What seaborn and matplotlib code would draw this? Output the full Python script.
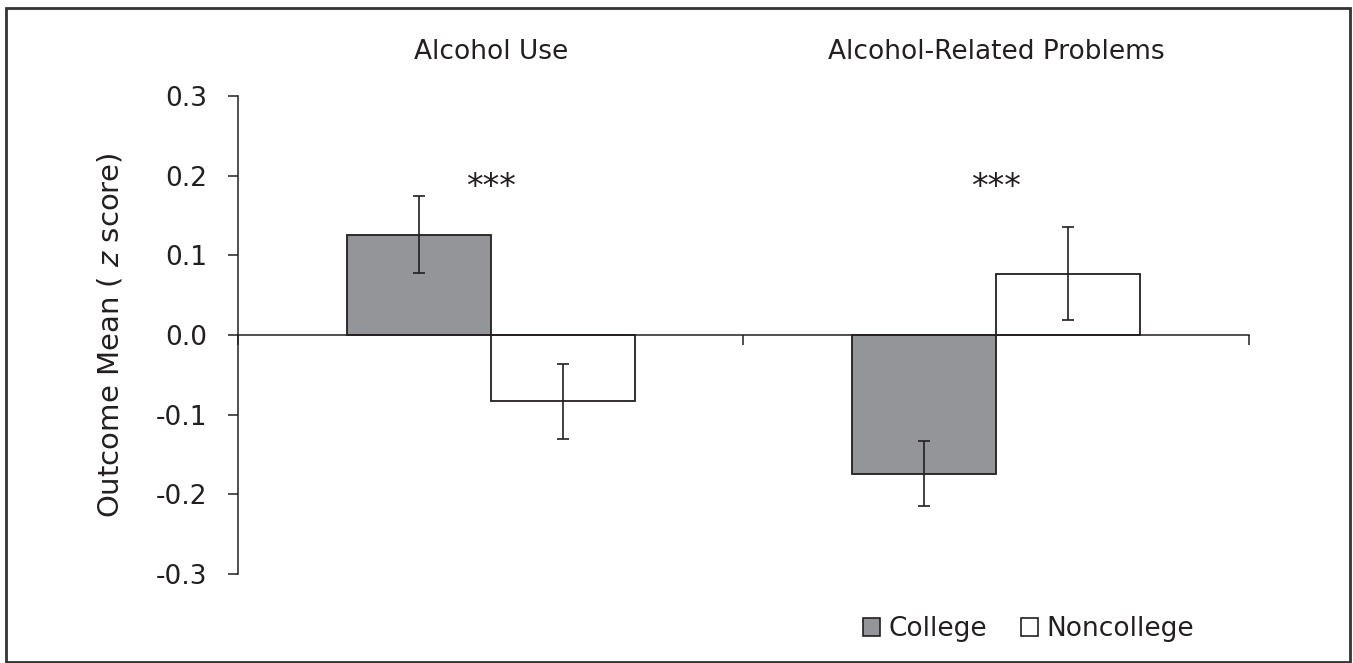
"""Bar chart of outcome means (z score) for college and noncollege groups."""

import matplotlib
matplotlib.use('Agg')
import matplotlib.pyplot as plt
import matplotlib.patches as mpatches
import seaborn as sns
import pandas as pd

# Data
outcomes = ['Alcohol Use', 'Alcohol-Related Problems']
groups = ['College', 'Noncollege']
college_means = [0.126, -0.174]
noncollege_means = [-0.083, 0.077]
college_errors = [0.048, 0.041]
noncollege_errors = [0.047, 0.058]
significance = ['***', '***']
y_ticks = [-0.3, -0.2, -0.1, 0.0, 0.1, 0.2, 0.3]

INK = '#231f20'
GRAY = '#949598'


def build_frame():
    """Long-format table for seaborn"""
    rows = []
    for i, outcome in enumerate(outcomes):
        rows.append({'outcome': outcome, 'group': 'College',
                     'mean': college_means[i], 'err': college_errors[i]})
        rows.append({'outcome': outcome, 'group': 'Noncollege',
                     'mean': noncollege_means[i], 'err': noncollege_errors[i]})
    return pd.DataFrame(rows)


def plot_means(df):
    sns.set_style('white')
    plt.rcParams['font.family'] = ['DejaVu Sans']
    plt.rcParams['axes.unicode_minus'] = False
    plt.rcParams['mathtext.fontset'] = 'dejavusans'

    fig = plt.figure(figsize=(13.53, 6.63), dpi=100)
    ax = fig.add_axes([0.1759, 0.1342, 0.7472, 0.721])

    sns.barplot(
        data=df, x='outcome', y='mean', hue='group',
        order=outcomes, hue_order=groups,
        palette={'College': GRAY, 'Noncollege': 'white'},
        saturation=1, width=0.57, errorbar=None,
        edgecolor=INK, linewidth=1.3, ax=ax,
    )

    # error bars at the bar centres
    err_lists = [college_errors, noncollege_errors]
    for container, errs in zip(ax.containers, err_lists):
        for bar, e in zip(container, errs):
            xc = bar.get_x() + bar.get_width() / 2
            ax.errorbar(xc, bar.get_height(), yerr=e, fmt='none',
                        ecolor=INK, elinewidth=1.2, capsize=4.5,
                        capthick=1.2, zorder=5)

    # axes styling
    ax.set_ylim(-0.3, 0.3)
    ax.set_xlim(-0.5, 1.5)
    ax.set_yticks(y_ticks)
    ax.set_yticklabels([f'{v:.1f}' for v in y_ticks])
    ax.set_xticks([-0.5, 0.5, 1.5])
    ax.set_xticklabels([])
    ax.set_xlabel('')
    ax.set_ylabel('Outcome Mean ( $\\mathit{z}$ score)', fontsize=21, color=INK)
    ax.yaxis.set_label_coords(-0.112, 0.5)

    for side in ['top', 'right']:
        ax.spines[side].set_visible(False)
    ax.spines['bottom'].set_position(('data', 0))
    for side in ['left', 'bottom']:
        ax.spines[side].set_color(INK)
        ax.spines[side].set_linewidth(1.1)
    ax.tick_params(axis='y', direction='out', length=7, width=1.1,
                   color=INK, labelsize=19, labelcolor=INK, pad=15, left=True)
    ax.tick_params(axis='x', direction='out', length=7, width=1.1,
                   color=INK, bottom=True)

    # outcome titles and significance marks
    for i, (name, sig) in enumerate(zip(outcomes, significance)):
        ax.text(i, 1.092, name, transform=ax.get_xaxis_transform(),
                ha='center', va='center', fontsize=19, color=INK)
        ax.text(i, 0.185, sig, ha='center', va='center',
                fontsize=24, color=INK)

    # legend
    handles = [mpatches.Patch(facecolor=GRAY, edgecolor=INK, linewidth=1.2),
               mpatches.Patch(facecolor='white', edgecolor=INK, linewidth=1.2)]
    ax.legend(handles, groups, loc='center left', ncol=2, frameon=False,
              bbox_to_anchor=(0.638, 0.051), bbox_transform=fig.transFigure,
              fontsize=19, handlelength=0.65, handleheight=0.65,
              handletextpad=0.3, columnspacing=1.3, borderpad=0,
              borderaxespad=0, labelcolor=INK)

    # frame around the whole figure
    fig.patches.append(mpatches.Rectangle(
        (0.0044, 0.0015), 0.9934, 0.9865, transform=fig.transFigure,
        fill=False, edgecolor='#333333', linewidth=2))

    fig.savefig('out.png', dpi=100)
    plt.close(fig)


if __name__ == "__main__":
    plot_means(build_frame())
